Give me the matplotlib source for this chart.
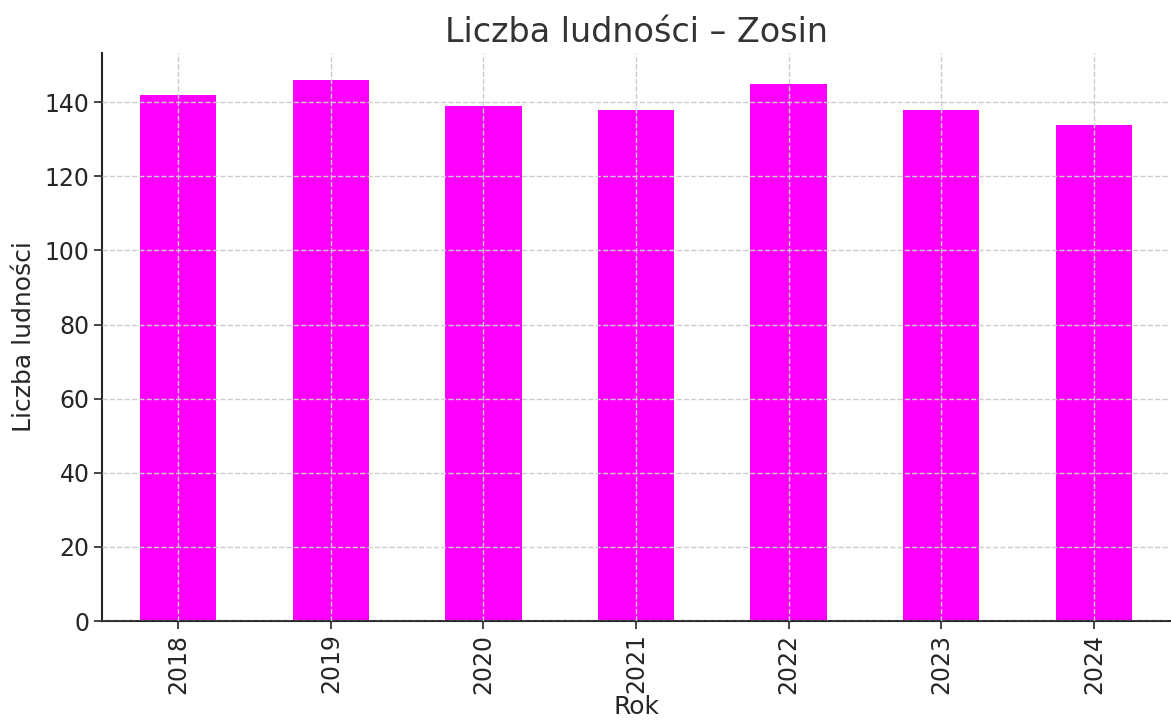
import matplotlib
matplotlib.use("Agg")
import matplotlib.pyplot as plt

years = ["2018", "2019", "2020", "2021", "2022", "2023", "2024"]
population = [142, 146, 139, 138, 145, 138, 134]

fig = plt.figure(figsize=(11.71, 7.26), dpi=100)
ax = fig.add_axes([0.0871, 0.1446, 0.9121, 0.7824])

x = list(range(len(years)))
ax.bar(x, population, width=0.5, color="#ff00ff", zorder=2)
ax.set_xlim(-0.5, len(years) - 0.5)
ax.set_ylim(0, max(population) * 1.05)
ax.set_xticks(x)
ax.set_xticklabels(years, rotation=90)
ax.set_yticks(range(0, 141, 20))

ax.grid(True, linestyle="--", color="#cccccc", linewidth=1, zorder=0)
ax.set_axisbelow(False)
for s in ["top", "right"]:
    ax.spines[s].set_visible(False)
for s in ["left", "bottom"]:
    ax.spines[s].set_color("#262626")
    ax.spines[s].set_linewidth(1.5)

ax.tick_params(axis="both", labelsize=17, colors="#262626", length=6, width=1.2, pad=3)
ax.set_title("Liczba ludności – Zosin", fontsize=24, color="#333333", pad=8)
ax.set_xlabel("Rok", fontsize=18, color="#262626", labelpad=1)
ax.set_ylabel("Liczba ludności", fontsize=18, color="#262626", labelpad=6)

fig.savefig("out.png", dpi=100)
